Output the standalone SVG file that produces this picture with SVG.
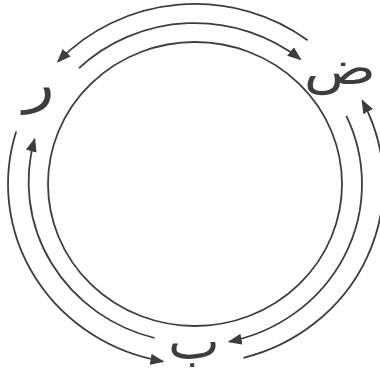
<svg xmlns="http://www.w3.org/2000/svg" width="380" height="379" viewBox="0 0 380 379">
<style>
.ring{fill:none;stroke:#3d3d3d;stroke-width:1.8}
.arc{fill:none;stroke:#3d3d3d;stroke-width:1.8;marker-end:url(#ah)}
.lbl{font-family:"DejaVu Sans",sans-serif;fill:#3d3d3d;text-anchor:middle}
</style>
<defs>
<marker id="ah" markerUnits="userSpaceOnUse" markerWidth="15" markerHeight="12" refX="12" refY="5.5" orient="auto">
<path d="M0,0 L14,5.5 L0,11 z" fill="#3d3d3d"/>
</marker>
</defs>
<rect width="380" height="379" fill="#ffffff"/>
<g id="circle"><ellipse class="ring" cx="195" cy="184" rx="147" ry="142"/></g>
<g id="connectors">
<path class="arc" d="M307.6,40.2 A187,180 0 0 0 58.3,61.2"/>
<path class="arc" d="M243.4,357.9 A187,180 0 0 0 362.5,101"/>
<path class="arc" d="M16.2,131.4 A187,180 0 0 0 162.5,361.3"/>
<path class="arc" d="M79,68.2 A167,161 0 0 1 300,58.9"/>
<path class="arc" d="M346.3,115.9 A167,161 0 0 1 229.7,341.5"/>
<path class="arc" d="M154.6,338 A167,161 0 0 1 34.5,139.6"/>
</g>
<g id="node-dad"><text class="lbl" font-size="46" transform="translate(340,84) scale(1.3,1)">ض</text></g>
<g id="node-ra"><text class="lbl" font-size="54" transform="translate(39,102) scale(1.2,1)">ر</text></g>
<g id="node-ba"><text class="lbl" font-size="50" transform="translate(194,359) scale(1.1,1)">ب</text></g>
</svg>
